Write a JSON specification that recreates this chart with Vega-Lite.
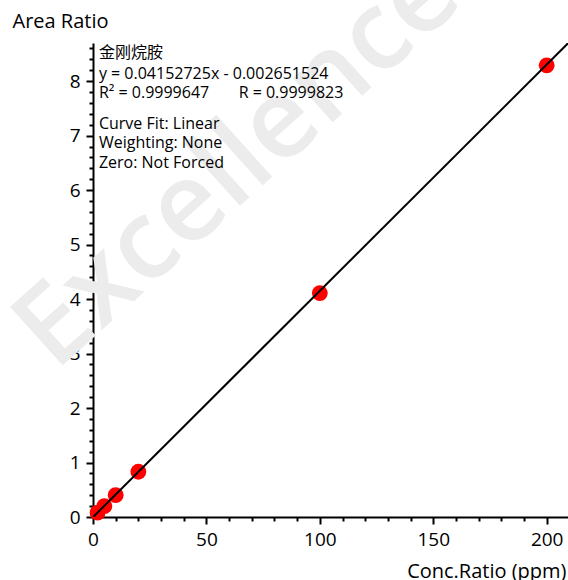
{
  "$schema": "https://vega.github.io/schema/vega-lite/v6.json",
  "width": 475,
  "height": 474,
  "autosize": {"type": "none"},
  "padding": {"left": 93, "top": 43, "right": 0, "bottom": 63},
  "background": "white",
  "config": {"view": {"stroke": null}, "font": "Open Sans, Noto Sans CJK SC"},
  "datasets": {
    "points": [
      {"conc": 2, "ratio": 0.08},
      {"conc": 5, "ratio": 0.2},
      {"conc": 10, "ratio": 0.4},
      {"conc": 20, "ratio": 0.83},
      {"conc": 100, "ratio": 4.11},
      {"conc": 200, "ratio": 8.29}
    ],
    "fit": [
      {"conc": 0, "ratio": -0.002651524},
      {"conc": 215, "ratio": 8.928107226}
    ],
    "notes": [
      {"label": "金刚烷胺", "conc": 2.6, "ratio": 8.51},
      {"label": "y = 0.04152725x - 0.002651524", "conc": 2.6, "ratio": 8.13},
      {"label": "R² = 0.9999647", "conc": 2.6, "ratio": 7.79},
      {"label": "R = 0.9999823", "conc": 64.2, "ratio": 7.79},
      {"label": "Curve Fit: Linear", "conc": 2.6, "ratio": 7.21},
      {"label": "Weighting: None", "conc": 2.6, "ratio": 6.86},
      {"label": "Zero: Not Forced", "conc": 2.6, "ratio": 6.5}
    ],
    "watermark": [
      {"label": "Excellence", "conc": 64, "ratio": 6.5}
    ]
  },
  "layer": [
    {
      "data": {"name": "watermark"},
      "mark": {"type": "text", "angle": -42, "fontSize": 110, "fontWeight": 600, "color": "#ececec", "align": "center", "baseline": "middle"},
      "encoding": {
        "x": {"field": "conc", "type": "quantitative"},
        "y": {"field": "ratio", "type": "quantitative"},
        "text": {"field": "label"}
      }
    },
    {
      "data": {"name": "points"},
      "mark": {"type": "point", "filled": true, "color": "#ff0000", "size": 250, "opacity": 1},
      "encoding": {
        "x": {
          "field": "conc", "type": "quantitative",
          "scale": {"domain": [0, 209.4], "nice": false, "zero": false},
          "axis": {
            "title": "Conc.Ratio (ppm)",
            "values": [0,10,20,30,40,50,60,70,80,90,100,110,120,130,140,150,160,170,180,190,200],
            "tickCount": 1000,
            "labelExpr": "datum.value % 50 === 0 ? format(datum.value, 'd') : ''",
            "labelOverlap": false,
            "labelFlush": false,
            "grid": false,
            "domainColor": "black",
            "domainWidth": 2,
            "tickColor": "black",
            "tickWidth": 2,
            "tickSize": {"condition": {"test": "datum.value % 50 === 0", "value": 7}, "value": 4},
            "labelFontSize": 19,
            "labelColor": "black",
            "labelPadding": 6,
            "titleFontSize": 20,
            "titleFontWeight": "normal",
            "titleColor": "black",
            "titleAlign": "right",
            "titleBaseline": "alphabetic",
            "titleX": 473,
            "titleY": 60
          }
        },
        "y": {
          "field": "ratio", "type": "quantitative",
          "scale": {"domain": [0, 8.7], "nice": false, "zero": false},
          "axis": {
            "title": "Area Ratio",
            "values": [0,0.2,0.4,0.6,0.8,1,1.2,1.4,1.6,1.8,2,2.2,2.4,2.6,2.8,3,3.2,3.4,3.6,3.8,4,4.2,4.4,4.6,4.8,5,5.2,5.4,5.6,5.8,6,6.2,6.4,6.6,6.8,7,7.2,7.4,7.6,7.8,8,8.2,8.4,8.6],
            "tickCount": 1000,
            "labelExpr": "abs(datum.value - round(datum.value)) < 0.001 ? format(datum.value, 'd') : ''",
            "labelOverlap": false,
            "labelFlush": false,
            "grid": false,
            "domainColor": "black",
            "domainWidth": 2,
            "tickColor": "black",
            "tickWidth": 2,
            "tickSize": {"condition": {"test": "abs(datum.value - round(datum.value)) < 0.001", "value": 7}, "value": 4},
            "labelFontSize": 19,
            "labelColor": "black",
            "labelPadding": 6,
            "titleFontSize": 20,
            "titleFontWeight": "normal",
            "titleColor": "black",
            "titleAngle": 0,
            "titleAlign": "left",
            "titleBaseline": "alphabetic",
            "titleX": -81,
            "titleY": -16
          }
        }
      }
    },
    {
      "data": {"name": "fit"},
      "mark": {"type": "line", "color": "black", "strokeWidth": 2, "clip": true},
      "encoding": {
        "x": {"field": "conc", "type": "quantitative"},
        "y": {"field": "ratio", "type": "quantitative"}
      }
    },
    {
      "data": {"name": "notes"},
      "mark": {"type": "text", "align": "left", "baseline": "middle", "fontSize": 16, "color": "black"},
      "encoding": {
        "x": {"field": "conc", "type": "quantitative"},
        "y": {"field": "ratio", "type": "quantitative"},
        "text": {"field": "label"}
      }
    }
  ]
}
